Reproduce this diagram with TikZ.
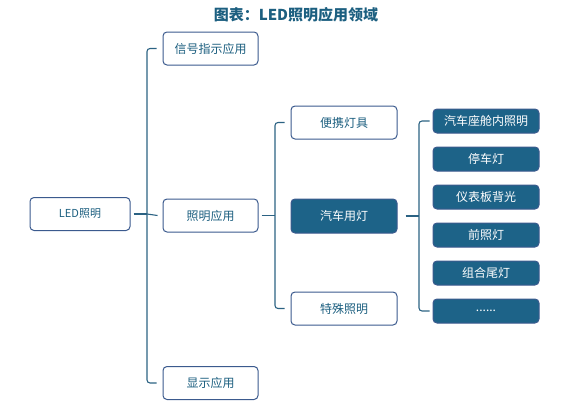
\documentclass[tikz,border=0pt]{standalone}
\usepackage{fontspec}
\setmainfont{Noto Sans CJK SC}
\usetikzlibrary{calc}
\definecolor{txt}{HTML}{1C5F80}
\definecolor{bord}{HTML}{3B5A8E}
\definecolor{fillc}{HTML}{1D6388}
\definecolor{lnc}{HTML}{2B6283}
\tikzset{
  wbox/.style={draw=bord, line width=1pt, rounded corners=4pt, fill=white, text=txt, inner sep=0pt, font=\fontsize{12}{12}\selectfont},
  dbox/.style={draw=bord, line width=1pt, rounded corners=4pt, fill=fillc, text=white, inner sep=0pt, font=\fontsize{12}{12}\selectfont},
  conn/.style={draw=lnc, line width=1.1pt, rounded corners=3pt},
}
\begin{document}
\begin{tikzpicture}[x=1pt,y=-1pt]
\useasboundingbox (0,0) rectangle (582,407);
\node[text=txt, font=\bfseries\fontsize{15}{15}\selectfont] (title) at (296,14.5) {图表：LED照明应用领域};
% level 0
\node[wbox, minimum width=100pt, minimum height=33pt, font=\fontsize{11}{11}\selectfont] (led) at (80,214) {LED照明};
% level 1
\node[wbox, minimum width=95pt, minimum height=33pt] (sig) at (210.5,48.5) {信号指示应用};
\node[wbox, minimum width=95pt, minimum height=33pt] (zm) at (210.5,215.5) {照明应用};
\node[wbox, minimum width=95pt, minimum height=33pt] (xs) at (210.5,383) {显示应用};
% level 2
\node[wbox, minimum width=106pt, minimum height=33pt] (bx) at (344,122.5) {便携灯具};
\node[dbox, minimum width=106pt, minimum height=34pt] (qc) at (344,216) {汽车用灯};
\node[wbox, minimum width=106pt, minimum height=33pt] (ts) at (344,308.5) {特殊照明};
% level 3
\node[dbox, minimum width=106pt, minimum height=24pt] (r1) at (486,121) {汽车座舱内照明};
\node[dbox, minimum width=106pt, minimum height=24pt] (r2) at (486,159) {停车灯};
\node[dbox, minimum width=106pt, minimum height=24pt] (r3) at (486,197) {仪表板背光};
\node[dbox, minimum width=106pt, minimum height=24pt] (r4) at (486,235) {前照灯};
\node[dbox, minimum width=106pt, minimum height=24pt] (r5) at (486,273) {组合尾灯};
\node[dbox, minimum width=106pt, minimum height=24pt] (r6) at (486,311) {......};
% connectors level 0 -> 1
\coordinate (j1) at (147,214);
\draw[conn] ($(sig.west)+(-6,0)$) -| (j1) |- ($(xs.west)+(-6,0)$);
\draw[conn] ($(led.east)+(3,0)$) -- (j1);
\draw[conn] (j1) -- ($(zm.west)+(-5,0)$);
% level 1 -> 2
\coordinate (j2) at (275,215.5);
\draw[conn] ($(bx.west)+(-6,0)$) -| (j2) |- ($(ts.west)+(-6,0)$);
\draw[conn] ($(zm.east)+(3,0)$) -- (j2);
% level 2 -> 3
\coordinate (j3) at (419,216);
\draw[conn] ($(r1.west)+(-3,0)$) -| (j3) |- ($(r6.west)+(-3,0)$);
\draw[conn] ($(qc.east)+(8,0)$) -- (j3);
\end{tikzpicture}
\end{document}
